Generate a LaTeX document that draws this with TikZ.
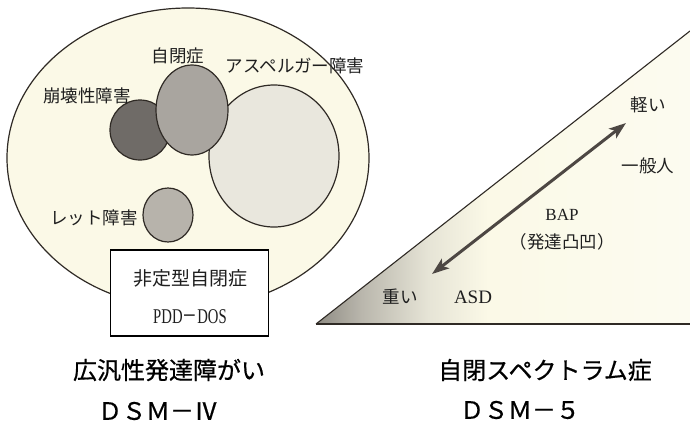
\documentclass[tikz,border=0pt]{standalone}
\usepackage{fontspec}
\setmainfont{Liberation Serif}
\newfontfamily\jp{Noto Sans CJK JP}
\newfontfamily\jpb{Noto Sans CJK JP}[FakeBold=0.6]
\usetikzlibrary{shapes.geometric,arrows.meta}
\definecolor{cream}{HTML}{FBF9E7}
\definecolor{creamB}{HTML}{FCFBF0}
\definecolor{aspC}{HTML}{E9E7DD}
\definecolor{autC}{HTML}{A9A59F}
\definecolor{darkC}{HTML}{6F6B67}
\definecolor{rettC}{HTML}{B7B3AB}
\definecolor{lineC}{HTML}{2F2A25}
\definecolor{arrowC}{HTML}{4D4743}
\definecolor{tipG}{HTML}{8E8B83}
\definecolor{midG}{HTML}{B9B6AC}
\definecolor{lightG}{HTML}{E6E4D6}
\pgfdeclarehorizontalshading{trishade}{100bp}{color(0bp)=(tipG); color(25bp)=(tipG); color(31bp)=(midG); color(40bp)=(lightG); color(48bp)=(cream); color(75bp)=(creamB); color(100bp)=(creamB)}
\begin{document}
\begin{tikzpicture}[x=1pt,y=-1pt,
  blob/.style={ellipse, draw=lineC, line width=1.2pt, inner sep=0pt, outer sep=0pt},
  lab/.style={font=\jp\fontsize{17.5}{17.5}\selectfont, inner sep=0pt, text=black!88},
  latlab/.style={font=\fontsize{17}{17}\selectfont, inner sep=0pt, text=black!88},
  captxt/.style={font=\jpb\fontsize{24}{24}\selectfont, inner sep=0pt}]
\useasboundingbox (0,0) rectangle (690,423);
\fill[white] (0,0) rectangle (690,423);
% ---- DSM-5 triangle ----
\coordinate (tl) at (316,324);
\coordinate (tr) at (690,31);
\coordinate (br) at (690,324);
\shade[shading=trishade] (tl) -- (tr) -- (br) -- cycle;
\draw[lineC, line width=1.1pt] (tl) -- (tr);
\draw[lineC, line width=2pt] (tl) -- (br);
\coordinate (aLo) at (432,274);
\coordinate (aHi) at (626,123);
\draw[arrowC, line width=3pt, {Stealth[length=17pt,width=12pt,inset=4pt]}-{Stealth[length=17pt,width=12pt,inset=4pt]}] (aLo) -- (aHi);
\node[lab] (light) at (648,105) {軽い};
\node[lab] (gen) at (648,166) {一般人};
\node[latlab] (bap) at (562,215) {BAP};
\node[lab] (dev) at (562,242) {（発達凸凹）};
\node[lab] (heavy) at (400,297) {重い};
\node[latlab, font=\fontsize{19}{19}\selectfont] (asd) at (473,297) {ASD};
% ---- DSM-IV ellipse ----
\node[blob, fill=cream, minimum width=362pt, minimum height=300pt] (pdd) at (188,158) {};
\node[blob, fill=aspC, minimum width=130pt, minimum height=142pt] (asp) at (274,156) {};
\node[blob, fill=darkC, minimum width=60pt, minimum height=60pt] (cdd) at (140,130) {};
\node[blob, fill=autC, minimum width=72pt, minimum height=90pt] (aut) at (192,110) {};
\node[blob, fill=rettC, minimum width=50pt, minimum height=54pt] (rett) at (168,215) {};
\node[lab] (autL) at (178,56) {自閉症};
\node[lab] (aspL) at (295,66) {アスペルガー障害};
\node[lab] (cddL) at (87,96) {崩壊性障害};
\node[lab] (rettL) at (94,218) {レット障害};
\node[draw=black, line width=1.5pt, fill=white, minimum width=158pt, minimum height=86pt, inner sep=0pt] (box) at (189.5,293) {};
\node[lab, font=\jp\fontsize{19}{19}\selectfont] (atyp) at (190,278) {非定型自閉症};
\node[latlab, font=\fontsize{21}{21}\selectfont] (pddnos) at (190,317) {\scalebox{0.7}[1]{PDD{\jp －}DOS}};
% ---- captions ----
\node[captxt] (c1) at (169,370) {広汎性発達障がい};
\node[captxt] (c2) at (545,370) {自閉スペクトラム症};
\node[captxt] (c3) at (158,411) {ＤＳＭ－Ⅳ};
\node[captxt] (c4) at (520,410) {ＤＳＭ－５};
\end{tikzpicture}
\end{document}
